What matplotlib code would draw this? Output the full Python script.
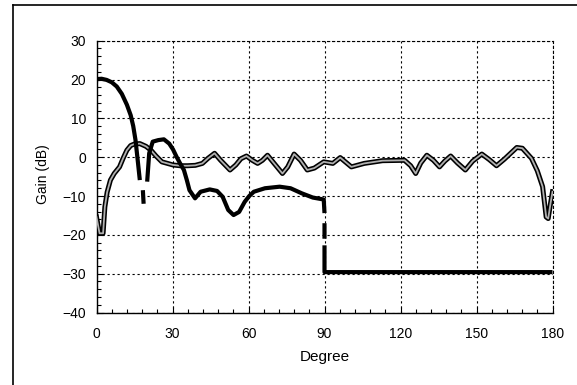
import numpy as np
import matplotlib
matplotlib.use("Agg")
import matplotlib.pyplot as plt
import matplotlib.patheffects as pe
from matplotlib.ticker import MultipleLocator

plt.rcParams['font.family'] = ['Liberation Sans', 'DejaVu Sans']

# Black curve (NaN = visible break in the trace)
deg_a = [0, 2, 4, 6, 8, 10, 12, 13.5, 14.5, 15.4, 16.4, 17.1, np.nan, 18.3, 18.6, np.nan,
         20, 20.8, 22.2, 24.4, 26.6, 28.7, 30.2, 31.6, 33, 34.5, 35.7, 36.7, 38.9, 41.1, 44.7,
         47.6, 49.8, 52, 54.1, 56.3, 58.5, 60.3, 62.1, 66.5, 72.3, 76.6, 81, 85.4,
         89.7, 90, np.nan, 90, 90, np.nan, 90, 90, 90.5, 120, 150, 180]
gain_a = [20.1, 20.2, 19.9, 19.3, 18.2, 16.3, 13.5, 10.8, 8.0, 4.4, -1.6, -5.9, np.nan, -8.5, -12, np.nan,
          -6.3, 1, 4, 4.4, 4.6, 3.5, 2.0, 0.1, -1.6, -3.3, -6.0, -8.5, -10.6, -8.9, -8.3,
          -8.7, -10.2, -13.6, -14.9, -14.1, -11.5, -10.0, -8.9, -8.0, -7.6, -8.0, -9.3, -10.4,
          -10.9, -14.4, np.nan, -17, -21, np.nan, -22.7, -29.6, -29.6, -29.6, -29.6, -29.6]

# Gray (outlined) curve
deg_b = [0, 1.2, 2.6, 3.3, 4.2, 5.5, 7, 9.1, 10.5, 12, 13.5, 15, 17.1, 19.5, 21.5, 23.5, 25.8, 28, 30.2,
         33, 36, 39, 41.8, 44, 46.6, 49, 52.7, 55, 57, 59.2, 61.5, 63.6, 65.5, 67.5,
         70, 73.4, 75.5, 78, 80.5, 83.2, 86, 89.7, 93.3, 96.2, 100.6, 105.7, 112.9,
         121.6, 124, 126, 128, 130.4, 133, 135.4, 137.5, 139.8, 142.5, 145.6, 148.5,
         152.1, 155, 157.9, 161, 165.9, 168.1, 171.7, 174, 176.1, 177.5, 178.3, 179.2, 180]
gain_b = [-15.4, -19.6, -19.6, -12.8, -9.0, -5.9, -4.2, -2.5, -0.3, 1.8, 3.0, 3.4, 3.5, 2.8, 1.8, 0.3, -1.2, -1.6, -2.0,
          -2.2, -2.2, -2.1, -1.6, -0.3, 1.0, -0.8, -3.3, -2.0, -0.4, 0.3, -0.8, -1.6, -0.8, 0.5,
          -1.5, -4.2, -2.5, 0.8, -0.8, -3.3, -2.8, -1.2, -1.6, -0.1, -2.5, -1.6, -0.9,
          -0.8, -2.2, -4.2, -1.5, 0.5, -0.8, -2.5, -1.0, 0.3, -1.5, -3.3, -1.0,
          0.8, -0.6, -2.2, -0.5, 2.5, 2.3, -0.3, -3.5, -7.6, -15.4, -15.8, -12, -8.9]

xticks = [0, 30, 60, 90, 120, 150, 180]
yticks = [-40, -30, -20, -10, 0, 10, 20, 30]

fig = plt.figure(figsize=(5.77, 3.85), dpi=100)
ax = fig.add_axes([96.5/577, 1-312.5/385, (552.5-96.5)/577, (312.5-40.7)/385])

ax.plot(deg_b, gain_b, color='#b0b0b0', lw=1.3, zorder=3,
        path_effects=[pe.Stroke(linewidth=3.6, foreground='black'), pe.Normal()])
ax.plot(deg_a, gain_a, color='black', lw=3.0, zorder=4, solid_capstyle='butt')

ax.set_xlim(0, 180)
ax.set_ylim(-40, 30)
ax.set_xticks(xticks)
ax.set_yticks(yticks)
ax.set_yticklabels([str(v).replace('-', '\u2212') for v in yticks])
ax.xaxis.set_minor_locator(MultipleLocator(6))
ax.yaxis.set_minor_locator(MultipleLocator(2))
ax.tick_params(which='both', direction='in', labelsize=10, colors='black')
ax.tick_params(which='major', length=4, width=0.8)
ax.tick_params(axis='x', which='major', pad=10.5)
ax.tick_params(axis='y', which='major', pad=7.5)
ax.tick_params(which='minor', length=3, width=0.8)
ax.grid(True, which='major', color='black', linestyle=(0, (2, 2.5)), linewidth=0.8)
for s in ['top', 'right']:
    ax.spines[s].set_linestyle((0, (2, 2.5)))
    ax.spines[s].set_linewidth(0.8)
for s in ['left', 'bottom']:
    ax.spines[s].set_linewidth(1.0)

ax.set_xlabel('Degree', fontsize=11)
ax.set_ylabel('Gain (dB)', fontsize=10)
ax.xaxis.set_label_coords(0.5, -0.138)
ax.yaxis.set_label_coords(-0.102, 0.51)

# outer frame
fig.add_artist(plt.Line2D([13/577, 13/577], [0, 1-5/385], color='black', lw=1.2, transform=fig.transFigure))
fig.add_artist(plt.Line2D([13/577, 1], [1-5/385, 1-5/385], color='black', lw=1.2, transform=fig.transFigure))

fig.savefig('out.png', dpi=100)
